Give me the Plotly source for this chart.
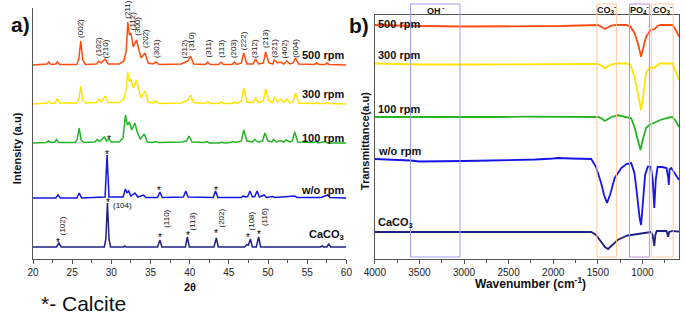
import plotly.graph_objects as go

# ---------------- DATA ----------------
# XRD patterns: (2theta, intensity above the trace's own baseline)
xrd_500 = [(20,0),(21.5,0.5),(21.8,1),(22.0,3),(22.3,0.5),(22.9,1),(23.1,3),(23.4,0.5),(25.6,0.5),(25.85,6),(26.1,24),(26.35,5),(26.7,0.5),
           (28.1,1),(28.4,4),(28.7,2),(29.2,6),(29.6,1),(31.0,1),(31.6,4),(31.9,14),(32.1,43),(32.3,30),(32.5,32),(32.8,18),(33.2,25),
           (33.5,15),(33.8,7),(34.3,12),(34.7,2),(35.3,1),(35.7,3),(36.1,0.5),(38.9,1),(39.5,3),(39.8,4),(40.1,9),(40.5,1),(42.0,0.5),
           (42.3,3),(42.6,0.5),(43.7,0.5),(44.0,3),(44.3,0.5),(45.4,0.5),(45.7,3),(46.0,0.5),(46.6,2),(46.9,12),(47.3,1),(48.1,1),
           (48.4,6),(48.8,1),(49.4,2),(49.7,13),(50.1,2),(50.6,1),(50.8,5),(51.2,2),(51.6,3),(52.0,1),(52.4,4),(52.8,1),(53.2,2),
           (53.5,7),(53.9,1),(55.9,0.5),(56.2,2),(56.5,0.5),(57.3,0.5),(57.5,2),(57.8,0.5),(60,0)]
xrd_300 = [(20,0),(21.5,0.5),(21.8,1),(22.0,2.5),(22.3,0.5),(22.8,1),(23.1,5),(23.4,1),(25.6,1),(25.85,5),(26.1,18),(26.35,4),(26.7,1),
           (28.1,1.5),(28.4,5),(28.7,2),(29.2,8),(29.6,1.5),(31.0,1.5),(31.6,5),(31.9,15),(32.1,32),(32.3,22),(32.5,25),(32.8,16),
           (33.2,24),(33.5,14),(33.8,6),(34.3,13),(34.7,2),(35.3,1),(35.7,3),(36.1,0.5),(38.9,1),(39.5,3),(39.8,4),(40.1,9),(40.5,1.5),
           (42.0,0.5),(42.3,2.5),(42.6,0.5),(43.7,0.5),(44.0,2),(44.3,0.5),(45.4,0.5),(45.7,2),(46.0,0.5),(46.6,3),(46.9,16),(47.3,2),
           (48.1,1.5),(48.4,6),(48.8,1.5),(49.4,3),(49.7,15),(50.1,3),(50.6,1.5),(50.8,7),(51.2,2),(51.6,5),(52.0,1.5),(52.4,5),
           (52.8,1),(53.2,2),(53.5,11),(53.9,1),(55.9,0.5),(56.2,1.5),(56.5,0.5),(57.3,0.5),(57.5,1.5),(57.8,0.5),(60,0)]
xrd_100 = [(20,0),(21.7,0.5),(22.0,2),(22.3,0.5),(22.8,1),(23.0,3.5),(23.3,0.5),(25.4,0.5),(25.65,4),(25.9,15),(26.15,3),(26.5,0.5),
           (27.9,1),(28.2,3.5),(28.5,1.5),(29.1,6),(29.4,2),(29.7,4),(30.0,1),(31.0,1),(31.5,5),(31.8,28),(32.05,18),(32.3,21),
           (32.6,13),(33.0,20),(33.3,11),(33.7,4),(34.2,9),(34.6,1),(35.3,0.5),(35.6,1.5),(36.0,0.5),(39.1,1),(39.4,2),(39.6,2),
           (39.9,7),(40.3,1),(41.9,0.5),(42.2,1.5),(42.5,0),(43.8,0),(44.1,1),(44.4,0),(45.2,0.5),(45.5,1.5),(45.8,0.5),(46.6,2),
           (46.9,13),(47.3,2),(48.0,1),(48.3,3.5),(48.7,1),(49.3,2),(49.6,10),(50.0,2),(50.5,1),(50.7,3.5),(51.1,1),(51.6,2.5),
           (52.0,1),(52.3,3),(52.8,1),(53.1,2),(53.4,11),(53.8,1),(55.8,0.5),(56.1,1.5),(56.4,0),(57.0,0.5),(57.3,1.5),(57.6,0),(60,0)]
xrd_wo = [(20,0),(22.9,0),(23.2,3),(23.5,0),(25.6,0),(25.9,5),(26.2,0),(29.2,1),(29.45,43),(29.7,1),(31.5,1),(31.8,9),(32.0,5),
          (32.2,7),(32.5,2),(33.0,5),(33.4,1),(34.1,3),(34.4,0.5),(35.9,0.5),(36.2,6),(36.5,0.5),(39.2,1),(39.5,7),(39.8,1),
          (43.0,0.5),(43.3,7),(43.6,0.5),(46.6,0.5),(46.8,2),(47.1,1),(47.4,1.5),(47.7,7),(48.0,1),(48.3,1.5),(48.6,7),(48.9,1),
          (49.5,3),(49.8,0.5),(50.6,1.5),(50.9,0.5),(51.5,1),(52.2,1),(53.4,2),(53.7,0.5),(56.8,0.5),(57.6,3),(57.9,0.5),(60,0)]
xrd_caco3 = [(20,0),(23.0,0),(23.3,4),(23.6,0),(29.1,0),(29.3,8),(29.5,44),(29.7,8),(29.9,0),(31.6,0),(31.7,1),(31.9,0),
             (35.9,0),(36.2,7),(36.45,0),(39.45,0),(39.7,10),(39.95,0),(43.1,0),(43.4,9),(43.65,0),(47.0,0),(47.3,2.5),(47.5,2),
             (47.75,8),(48.0,0),(48.5,0),(48.8,10),(49.05,0),(56.7,0),(56.9,1),(57.1,0),(57.5,0),(57.75,3),(58.0,0),(60,0)]

# FTIR spectra: (wavenumber cm-1, transmittance relative to the trace's own baseline)
ir_500 = [(4000,0),(3800,-0.5),(3500,-1),(3000,-1.5),(2500,-1.5),(2200,-1),(1900,-1),(1700,-0.5),(1500,0),(1459,-1.7),(1422,-4),
          (1385,-2.3),(1348,-0.7),(1300,0),(1181,0),(1133,-1.7),(1089,-8),(1052,-18),(1033,-25),(1015,-31.7),(997,-25),
          (978,-16.7),(959,-11.7),(922,-6.7),(900,-4.5),(867,-4.3),(833,-1),(800,0),(700,0.3),(663,0),(626,-5),(589,-11.7)]
ir_300 = [(4000,0.5),(3800,0),(3500,-0.5),(3000,-0.5),(2500,-0.5),(2200,0),(2000,0),(1800,0),(1500,0),(1459,-1.7),(1422,-4.3),
          (1385,-2),(1348,-0.5),(1300,0.5),(1181,0.5),(1133,-1),(1089,-12.7),(1052,-29),(1033,-39),(1015,-46),(997,-36),
          (978,-19),(959,-9),(922,-4),(900,-3.5),(867,-4),(833,-1),(800,0.5),(700,1),(663,0.7),(626,-7.7),(589,-16)]
ir_100 = [(4000,0),(3700,0),(3400,-0.5),(3000,-0.5),(2600,0),(2300,0.3),(2000,0),(1700,0),(1500,0),(1459,-1.3),(1422,-4),
          (1385,-2),(1348,0),(1274,1.7),(1167,0),(1126,-1.3),(1089,-10),(1052,-23),(1022,-33),(997,-23),(959,-11),(922,-8),
          (867,-6),(800,-3),(700,-0.5),(663,0),(626,-4),(589,-10)]
ir_wo = [(4000,0),(3800,-0.5),(3600,-1.5),(3500,-2.5),(3200,-2.5),(3000,-2),(2700,-1.5),(2400,-1),(2200,-0.5),(2000,0.5),
         (1950,1),(1800,0.5),(1650,0),(1574,0),(1520,-8),(1463,-24),(1430,-36),(1397,-44),(1360,-35),(1311,-19),(1237,-9),
         (1180,-5),(1126,-4),(1090,-14),(1070,-28),(1050,-45),(1030,-60),(1015,-66),(1000,-50),(985,-30),(970,-16),(940,-7.7),
         (906,-7.7),(885,-20),(867,-49),(850,-20),(830,-8),(780,-8),(730,-9),(712,-18),(704,-26),(695,-10),(677,-9),(640,-14),
         (589,-21)]
ir_caco3 = [(4000,0),(3500,0),(3000,0),(2500,-0.3),(2000,0),(1700,0),(1574,0),(1520,-3),(1470,-9),(1420,-15),(1385,-17),
            (1340,-13),(1278,-8),(1220,-5.5),(1167,-3.5),(1126,-3),(1000,-1.5),(944,-0.7),(906,0),(885,-3),(867,-14),(855,-3),
            (840,1),(800,1),(730,1),(712,-4.7),(700,0),(660,1),(589,0.3)]

series_names = ["500 rpm", "300 rpm", "100 rpm", "w/o rpm", "CaCO<sub>3</sub>"]

# HAp reflections labelled over the 500 rpm pattern
hap_hkl = ["(002)","(102)","(210)","(211)","(112)","(300)","(202)","(301)","(212)","(310)",
           "(311)","(113)","(203)","(222)","(312)","(213)","(321)","(402)","(004)"]
hap_2theta = [26.05,28.35,29.3,31.95,32.66,33.3,34.35,35.75,39.4,40.2,42.28,43.97,45.6,46.9,48.28,49.67,50.8,52.15,53.47]
hap_lab_y = [219,201,199,238,227,221,209,199,199,206,199,199,199,207,199,209,199,199,199]

# Calcite reflections labelled over the CaCO3 pattern
cal_hkl = ["(102)","(110)","(113)","(202)","(108)","(116)"]
cal_2theta = [23.8,36.95,40.35,44.0,47.95,49.5]
cal_lab_y = [22,29,27,29,27,31]
cal_star_x = [23.15,29.55,36.25,39.75,43.4,47.43,48.8]
cal_star_y = [19,59,24,26,28,24,27]
other_star_x = [29.7,29.45,36.13,43.3]
other_star_y = [122,107,71,71]

# FTIR band regions
bands = [("OH<sup> -</sup>",3600,3045,"#9f9ff0"),("CO<sub>3</sub><sup>-</sup>",1510,1292,"#ffc898"),
         ("PO<sub>4</sub><sup>-</sup>",1145,922,"#c68ae6"),("CO<sub>3</sub><sup>-</sup>",900,655,"#ffc898")]

# ---------------- LAYOUT / STYLE ----------------
W, H = 685, 320
ML, MR, MT, MB = 33, 0, 8, 61
PW, PH = W - ML - MR, H - MT - MB
def px_x(p): return (p - ML) / PW
def px_y(p): return (H - MB - p) / PH

FONT = "Liberation Sans, Arial, sans-serif"
colors = ["#ff4d12", "#ffe400", "#24b424", "#1515e6", "#1f1f85"]
xrd_offsets = [194, 155, 116, 61, 12]
ir_offsets = [234, 195, 142, 100, 27]

fig = go.Figure()
for data, off, c in zip([xrd_500, xrd_300, xrd_100, xrd_wo, xrd_caco3], xrd_offsets, colors):
    fig.add_trace(go.Scatter(x=[p[0] for p in data], y=[p[1] + off for p in data], mode="lines",
                             line=dict(color=c, width=1.5), xaxis="x", yaxis="y",
                             showlegend=False, hoverinfo="skip"))
for data, off, c in zip([ir_500, ir_300, ir_100, ir_wo, ir_caco3], ir_offsets, colors):
    fig.add_trace(go.Scatter(x=[p[0] for p in data], y=[p[1] + off for p in data], mode="lines",
                             line=dict(color=c, width=1.8), xaxis="x2", yaxis="y2",
                             showlegend=False, hoverinfo="skip"))

ann = []
def A(**k):
    base = dict(showarrow=False, font=dict(family=FONT, size=8, color="#111"))
    base.update(k)
    ann.append(base)

for t, x, y in zip(hap_hkl, hap_2theta, hap_lab_y):
    A(text=t, x=x, y=y, xref="x", yref="y", textangle=-90, xanchor="center", yanchor="bottom")
for t, x, y in zip(cal_hkl, cal_2theta, cal_lab_y):
    A(text=t, x=x, y=y, xref="x", yref="y", textangle=-90, xanchor="center", yanchor="bottom")
A(text="(104)", x=30.0, y=54, xref="x", yref="y", xanchor="left", yanchor="middle")
for x, y in zip(cal_star_x + other_star_x, cal_star_y + other_star_y):
    A(text="*", x=x, y=y - 2.5, xref="x", yref="y", xanchor="center", yanchor="middle",
      font=dict(family=FONT, size=10, color="#000"))

# series labels
left_lab_y = [55, 94, 138, 190, 235]
right_lab_y = [24, 55, 109, 151, 223]
for name, ly, ry in zip(series_names, left_lab_y, right_lab_y):
    A(text="<b>%s</b>" % name, x=px_x(349), y=px_y(ly), xref="paper", yref="paper",
      xanchor="right", yanchor="middle", font=dict(family=FONT, size=11, color="#111"))
    A(text="<b>%s</b>" % name, x=px_x(379), y=px_y(ry), xref="paper", yref="paper",
      xanchor="left", yanchor="middle", font=dict(family=FONT, size=11, color="#111"))

shapes = []
for i, (lab, x0, x1, c) in enumerate(bands):
    shapes.append(dict(type="rect", xref="x2", yref="paper", x0=x0, x1=x1, y0=px_y(257), y1=px_y(4),
                       line=dict(color=c, width=1), fillcolor="rgba(0,0,0,0)", layer="above"))
    A(text="<b>%s</b>" % lab, x=(x0 + x1) / 2, y=px_y(10), xref="x2", yref="paper",
      xanchor="center", yanchor="middle", font=dict(family=FONT, size=9, color="#111"))

# titles / panel letters
A(text="<b>Intensity (a.u)</b>", x=px_x(17), y=px_y(148), xref="paper", yref="paper", textangle=-90,
  xanchor="center", yanchor="middle", font=dict(family=FONT, size=11, color="#111"))
A(text="<b>Transmittance(a.u)</b>", x=px_x(368), y=px_y(141), xref="paper", yref="paper", textangle=-90,
  xanchor="center", yanchor="middle", font=dict(family=FONT, size=11, color="#111"))
A(text="<b>2θ</b>", x=px_x(191), y=px_y(287), xref="paper", yref="paper",
  xanchor="center", yanchor="middle", font=dict(family=FONT, size=11, color="#111"))
A(text="<b>Wavenumber (cm<sup>-1</sup>)</b>", x=px_x(535), y=px_y(283), xref="paper", yref="paper",
  xanchor="center", yanchor="middle", font=dict(family=FONT, size=12, color="#111"))
A(text="<b>a)</b>", x=px_x(20), y=px_y(24), xref="paper", yref="paper",
  xanchor="center", yanchor="middle", font=dict(family=FONT, size=21, color="#111"))
A(text="<b>b)</b>", x=px_x(362), y=px_y(25), xref="paper", yref="paper",
  xanchor="center", yanchor="middle", font=dict(family=FONT, size=21, color="#111"))
A(text="*- Calcite", x=px_x(84), y=px_y(303), xref="paper", yref="paper",
  xanchor="center", yanchor="middle", font=dict(family=FONT, size=21, color="#111"))

axcol = "#555"
tickfont = dict(family=FONT, size=10, color="#222")
fig.update_layout(
    width=W, height=H, margin=dict(l=ML, r=MR, t=MT, b=MB),
    paper_bgcolor="white", plot_bgcolor="white",
    xaxis=dict(domain=[0, px_x(349.3)], range=[20, 60], anchor="y", showline=True, linecolor=axcol, linewidth=1,
               ticks="outside", ticklen=4, tickcolor=axcol, tick0=0, dtick=5, tickfont=tickfont,
               showgrid=False, zeroline=False,
               minor=dict(dtick=2.5, ticks="outside", ticklen=3, tickcolor=axcol, showgrid=False)),
    yaxis=dict(domain=[0, 1], range=[0, 251], anchor="x", showline=True, linecolor=axcol, linewidth=1,
               showticklabels=False, ticks="", showgrid=False, zeroline=False),
    xaxis2=dict(domain=[px_x(378), 1], range=[4000, 590], anchor="y2", showline=True, mirror=True,
                linecolor=axcol, linewidth=1, ticks="outside", ticklen=4, tickcolor=axcol, tick0=0, dtick=500,
                tickfont=tickfont, showgrid=False, zeroline=False,
                minor=dict(dtick=250, ticks="outside", ticklen=3, tickcolor=axcol, showgrid=False)),
    yaxis2=dict(domain=[0, px_y(15)], range=[0, 244], anchor="x2", showline=True, mirror=True,
                linecolor=axcol, linewidth=1, showticklabels=False, ticks="", showgrid=False, zeroline=False),
    annotations=ann, shapes=shapes,
)
fig.write_html("out.html", config={"displayModeBar": False},
               post_script="document.body.style.margin='0';document.body.style.overflow='hidden';")
